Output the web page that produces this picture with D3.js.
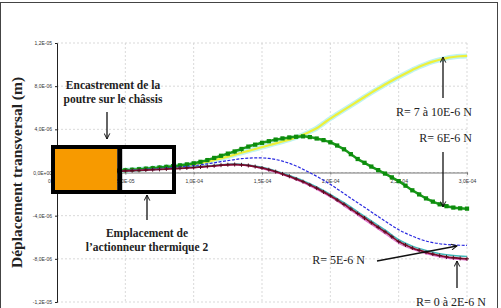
<!DOCTYPE html>
<html>
<head>
<meta charset="utf-8">
<script src="https://cdn.jsdelivr.net/npm/d3@7"></script>
<style>
  body { margin: 0; background: #fff; }
  .tick text { font-family: Arial, "Liberation Sans", sans-serif; font-size: 5px; fill: #333; }
  .note { font-family: "Liberation Serif", "Times New Roman", serif; font-weight: bold; font-size: 11.5px; fill: #222; }
  .rlab { font-family: "Liberation Serif", "Times New Roman", serif; font-size: 12px; fill: #222; }
</style>
</head>
<body>
<div id="chart"></div>
<script>
// abscissa, micrometres
var xs = [0,5,10,15,20,25,30,35,40,45,50,55,60,65,70,75,80,85,90,95,100,
  105,110,115,120,125,130,135,140,145,150,155,160,165,170,175,180,185,190,195,200,
  205,210,215,220,225,230,235,240,245,250,255,260,265,270,275,280,285,290,295,300];
var xs10 = [0,10,20,30,40,50,60,70,80,90,100,110,120,130,140,150,160,170,180,190,200,
  210,220,230,240,250,260,270,280,290,300];

// transverse displacement, micrometres
var r7to10 = [0,0,0.01,0.02,0.04,0.06,0.08,0.11,0.14,0.17,0.21,0.25,0.29,0.34,0.39,0.44,0.5,0.56,0.62,0.68,0.75,
  0.87,1.0,1.15,1.3,1.47,1.65,1.83,2.0,2.18,2.35,2.52,2.7,2.87,3.05,3.25,3.5,3.78,4.1,4.55,5.0,
  5.4,5.8,6.2,6.6,7.0,7.4,7.78,8.15,8.5,8.85,9.18,9.5,9.8,10.05,10.27,10.45,10.6,10.7,10.77,10.8];
var r6 = [0,0,0.01,0.02,0.04,0.06,0.08,0.11,0.14,0.17,0.21,0.25,0.3,0.35,0.4,0.46,0.52,0.59,0.66,0.75,0.85,
  0.99,1.15,1.35,1.55,1.75,1.95,2.18,2.4,2.58,2.75,2.9,3.05,3.16,3.25,3.31,3.35,3.28,3.15,3.0,2.8,
  2.5,2.15,1.7,1.25,0.9,0.55,0.22,-0.1,-0.45,-0.8,-1.22,-1.65,-2.03,-2.4,-2.7,-2.95,-3.12,-3.25,-3.32,-3.35];
var r5 = [0,0,0.01,0.02,0.03,0.05,0.07,0.09,0.12,0.15,0.18,0.21,0.25,0.29,0.33,0.37,0.42,0.47,0.52,0.57,0.63,
  0.71,0.8,0.9,1.0,1.1,1.2,1.28,1.33,1.36,1.35,1.3,1.2,1.05,0.85,0.6,0.3,-0.02,-0.35,-0.72,-1.1,
  -1.52,-1.95,-2.38,-2.8,-3.22,-3.65,-4.08,-4.5,-4.92,-5.3,-5.62,-5.9,-6.15,-6.35,-6.5,-6.6,-6.67,-6.72,-6.74,-6.75];
var r0 = [0,0,0.01,0.02,0.03,0.04,0.06,0.08,0.1,0.12,0.15,0.17,0.2,0.23,0.26,0.29,0.32,0.35,0.39,0.42,0.46,
  0.51,0.56,0.62,0.68,0.72,0.74,0.71,0.65,0.55,0.42,0.26,0.08,-0.13,-0.35,-0.6,-0.85,-1.15,-1.45,-1.8,-2.15,
  -2.55,-2.95,-3.38,-3.8,-4.22,-4.65,-5.08,-5.5,-5.95,-6.4,-6.72,-7.0,-7.2,-7.4,-7.56,-7.7,-7.82,-7.9,-7.96,-8.0];
var r1 = [0,0.01,0.03,0.07,0.11,0.16,0.22,0.28,0.35,0.42,0.5,0.6,0.72,0.78,0.7,0.48,0.15,-0.27,-0.75,-1.33,-2.02,
  -2.8,-3.64,-4.48,-5.32,-6.22,-6.82,-7.22,-7.52,-7.7,-7.78];
var r2 = [0,0.01,0.03,0.05,0.09,0.14,0.19,0.24,0.3,0.37,0.44,0.53,0.64,0.7,0.6,0.36,0.01,-0.43,-0.95,-1.57,-2.28,
  -3.1,-3.96,-4.82,-5.68,-6.55,-7.12,-7.52,-7.82,-8.02,-8.12];

var xTicks = [0,50,100,150,200,250,300];
var xTickLabels = ["0","5,0E-05","1,0E-04","1,5E-04","2,0E-04","2,5E-04","3,0E-04"];
var yTicks = [-12,-8,-4,0,4,8,12];
var yTickLabels = ["-1,2E-05","-8,0E-06","-4,0E-06","0,0E+00","4,0E-06","8,0E-06","1,2E-05"];

var svg = d3.select("#chart").append("svg")
  .attr("width", 501)
  .attr("height", 308);

var x = d3.scaleLinear().domain([0, 300]).range([57, 467]),
    y = d3.scaleLinear().domain([-12, 12]).range([302, 43]);

// arrow head
svg.append("defs").append("marker")
  .attr("id", "head")
  .attr("viewBox", "0 0 10 10")
  .attr("refX", 9).attr("refY", 5)
  .attr("markerWidth", 7).attr("markerHeight", 7)
  .attr("markerUnits", "userSpaceOnUse")
  .attr("orient", "auto")
  .append("path")
  .attr("d", "M1,1L9,5L1,9")
  .attr("fill", "none")
  .attr("stroke", "#111")
  .attr("stroke-width", 1.4);

// outer frame
svg.append("rect")
  .attr("x", 0.5).attr("y", 2.5)
  .attr("width", 497).attr("height", 320)
  .attr("fill", "none").attr("stroke", "#444");

// grid
var grid = svg.append("g");
grid.selectAll(".vg").data(xTicks.slice(1)).enter().append("line")
  .attr("x1", x).attr("x2", x)
  .attr("y1", y(12)).attr("y2", y(-12));
grid.selectAll(".hg").data(yTicks).enter().append("line")
  .attr("x1", x(0)).attr("x2", x(300))
  .attr("y1", y).attr("y2", y);
grid.selectAll("line")
  .attr("stroke", "#cfcfcf")
  .attr("stroke-width", 0.8)
  .attr("stroke-dasharray", "2,2");

// white interior of the actuator box (under everything)
svg.append("rect")
  .attr("x", 122).attr("y", 149)
  .attr("width", 50).attr("height", 41)
  .attr("fill", "#fff");

// y axis
var yAxis = d3.axisLeft(y)
  .tickValues(yTicks)
  .tickSize(2)
  .tickPadding(3)
  .tickFormat(function(d, i) { return yTickLabels[i]; });
var gy = svg.append("g")
  .attr("transform", "translate(" + x(0) + ",0)")
  .call(yAxis);
gy.select(".domain").attr("stroke", "#222");
gy.selectAll(".tick line").attr("stroke", "#222");

// x axis on the zero line
var xAxis = d3.axisBottom(x)
  .tickValues(xTicks)
  .tickSize(2)
  .tickPadding(5)
  .tickFormat(function(d, i) { return xTickLabels[i]; });
var gx = svg.append("g")
  .attr("transform", "translate(0," + y(0) + ")")
  .call(xAxis);
gx.select(".domain").attr("stroke", "#777").attr("stroke-width", 1.2);
gx.selectAll(".tick line").attr("stroke", "#777");
gx.select(".tick text").attr("dx", "-8");

// curves
var line = d3.line()
  .x(function(d) { return x(d[0]); })
  .y(function(d) { return y(d[1]); })
  .curve(d3.curveMonotoneX);

function pairs(xv, yv) { return xv.map(function(v, i) { return [v, yv[i]]; }); }

var curves = svg.append("g");

// R = 7 a 10E-6 N : overlapping pale series
curves.append("path").datum(pairs(xs, r7to10))
  .attr("d", line).attr("fill", "none")
  .attr("stroke", "#bff3f1").attr("stroke-width", 5);
curves.append("path").datum(pairs(xs, r7to10))
  .attr("d", line).attr("fill", "none")
  .attr("stroke", "#eef03a").attr("stroke-width", 2.2);
curves.selectAll(".ym").data(pairs(xs, r7to10).filter(function(d) { return d[0] < 140; }))
  .enter().append("path")
  .attr("transform", function(d) { return "translate(" + x(d[0]) + "," + (y(d[1]) - 1.5) + ")"; })
  .attr("d", "M0,-1V1")
  .attr("stroke", "#6a7a20").attr("stroke-width", 0.8);

// R = 6E-6 N
curves.append("path").datum(pairs(xs, r6))
  .attr("d", line).attr("fill", "none")
  .attr("stroke", "#1a9a1a").attr("stroke-width", 2.5);
curves.selectAll(".gm").data(pairs(xs, r6))
  .enter().append("path")
  .attr("transform", function(d) { return "translate(" + x(d[0]) + "," + y(d[1]) + ")"; })
  .attr("d", d3.symbol(d3.symbolSquare, 18))
  .attr("fill", "#0c8c0c");

// R = 5E-6 N
curves.append("path").datum(pairs(xs, r5))
  .attr("d", line).attr("fill", "none")
  .attr("stroke", "#2828e0").attr("stroke-width", 1.2)
  .attr("stroke-dasharray", "3,1.5");

// R = 0 a 2E-6 N
curves.append("path").datum(pairs(xs10, r1))
  .attr("d", line).attr("fill", "none")
  .attr("stroke", "#40b8b8").attr("stroke-width", 1.5);
curves.append("path").datum(pairs(xs10, r2))
  .attr("d", line).attr("fill", "none")
  .attr("stroke", "#e070d0").attr("stroke-width", 1.1);
curves.append("path").datum(pairs(xs, r0))
  .attr("d", line).attr("fill", "none")
  .attr("stroke", "#801030").attr("stroke-width", 1.8);
curves.selectAll(".rm").data(pairs(xs, r0))
  .enter().append("path")
  .attr("transform", function(d) { return "translate(" + x(d[0]) + "," + y(d[1]) + ")"; })
  .attr("d", "M-2,0H2M0,-2V2")
  .attr("stroke", "#5a0a20").attr("stroke-width", 1);

// clamped end (orange) and actuator location boxes
svg.append("rect")
  .attr("x", 55).attr("y", 149)
  .attr("width", 62).attr("height", 41)
  .attr("fill", "#f79a00");
svg.append("rect")
  .attr("x", 53).attr("y", 147)
  .attr("width", 121).attr("height", 45)
  .attr("fill", "none").attr("stroke", "#000").attr("stroke-width", 4);
svg.append("line")
  .attr("x1", 119.7).attr("x2", 119.7)
  .attr("y1", 147).attr("y2", 192)
  .attr("stroke", "#000").attr("stroke-width", 5);

// y axis title
svg.append("text")
  .attr("transform", "translate(22," + y(0) + ") rotate(-90)")
  .attr("text-anchor", "middle")
  .attr("font-family", "'Liberation Serif', 'Times New Roman', serif")
  .attr("font-weight", "bold")
  .attr("font-size", "15.5px")
  .attr("fill", "#222")
  .text("Déplacement transversal (m)");

// annotations
function note(cls, tx, ty, anchor, str) {
  svg.append("text").attr("class", cls)
    .attr("x", tx).attr("y", ty)
    .attr("text-anchor", anchor)
    .text(str);
}
function arrow(x1, y1, x2, y2) {
  svg.append("line")
    .attr("x1", x1).attr("y1", y1).attr("x2", x2).attr("y2", y2)
    .attr("stroke", "#111").attr("stroke-width", 1.3)
    .attr("marker-end", "url(#head)");
}

note("note", 113, 89, "middle", "Encastrement de la");
note("note", 113, 103, "middle", "poutre sur le châssis");
arrow(107, 112, 107, 139);

note("note", 147, 237, "middle", "Emplacement de");
note("note", 147, 251, "middle", "l\u2019actionneur thermique 2");
arrow(147, 220, 147, 195);

note("rlab", 472, 116, "end", "R= 7 à 10E-6 N");
arrow(443, 98, 443, 57);
note("rlab", 472, 142, "end", "R= 6E-6 N");
arrow(443, 152, 443, 207);
note("rlab", 365, 264, "end", "R= 5E-6 N");
arrow(377, 261, 457, 246);
note("rlab", 486, 306, "end", "R= 0 à 2E-6 N");
arrow(457, 288, 457, 261);
</script>
</body>
</html>
